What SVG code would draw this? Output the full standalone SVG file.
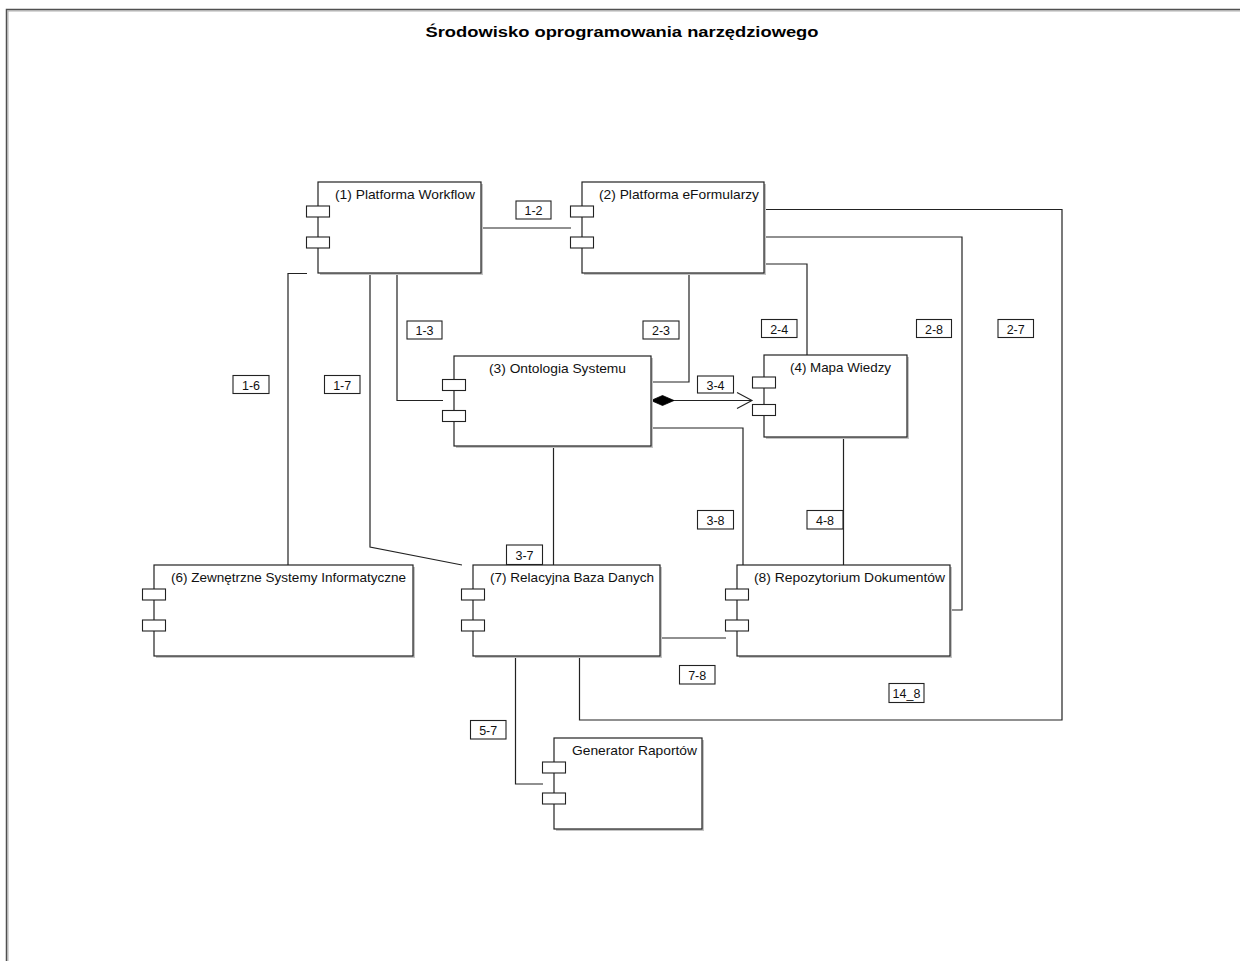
<svg xmlns="http://www.w3.org/2000/svg" width="1240" height="961" viewBox="0 0 1240 961">
<defs>
<style>
.frame{fill:none;stroke:#505050;stroke-width:1.5}
.frame2{fill:none;stroke:#b0b0b0;stroke-width:1}
.box{fill:#fff;stroke:#222;stroke-width:1.2}
.shadow{fill:#c4c4c4}
.port{fill:#fff;stroke:#222;stroke-width:1.1}
.name{font-family:"Liberation Sans",Arial,sans-serif;font-size:13px;fill:#111}
.title{font-family:"Liberation Sans",Arial,sans-serif;font-size:14.5px;font-weight:bold;fill:#000}
.conn{fill:none;stroke:#222;stroke-width:1.2}
.lbox{fill:#fff;stroke:#222;stroke-width:1.1}
.ltxt{font-family:"Liberation Sans",Arial,sans-serif;font-size:12.5px;fill:#111;text-anchor:middle}
</style>
<marker id="diamond" markerWidth="26" markerHeight="12" refX="0" refY="6" orient="auto" markerUnits="userSpaceOnUse">
<path d="M0,6 L11.5,1 L23,6 L11.5,11 Z" fill="#000" stroke="#000" stroke-width="0.8"/>
</marker>
<marker id="openarrow" markerWidth="18" markerHeight="20" refX="16" refY="9" orient="auto" markerUnits="userSpaceOnUse">
<path d="M1,1 L16,9 L1,17" fill="none" stroke="#222" stroke-width="1.1"/>
</marker>
</defs>
<rect width="1240" height="961" fill="#fff"/>
<g id="frame">
<rect class="frame2" x="8" y="11" width="1300" height="1000"/>
<rect class="frame" x="6.5" y="9.5" width="1300" height="1000"/>
<text class="title" x="622" y="37" text-anchor="middle" textLength="393" lengthAdjust="spacingAndGlyphs">Środowisko oprogramowania narzędziowego</text>
</g>
<g id="connectors">
<polyline class="conn" points="481,228 571,228"/>
<polyline class="conn" points="397,273 397,400.5 443,400.5"/>
<polyline class="conn" points="307,273.5 288,273.5 288,565"/>
<polyline class="conn" points="370,273 370,547 462,565"/>
<polyline class="conn" points="689,273 689,382 651,382"/>
<polyline class="conn" points="764,264 807,264 807,355"/>
<polyline class="conn" points="764,237 962,237 962,610 950,610"/>
<polyline class="conn" points="764,209.5 1062,209.5 1062,720 579.5,720 579.5,656"/>
<line class="conn" x1="651" y1="400.5" x2="752" y2="400.5" marker-start="url(#diamond)" marker-end="url(#openarrow)"/>
<polyline class="conn" points="651,428 743,428 743,565"/>
<polyline class="conn" points="553.5,446 553.5,565"/>
<polyline class="conn" points="843.5,437 843.5,565"/>
<polyline class="conn" points="660,638 726,638"/>
<polyline class="conn" points="515.5,656 515.5,784 543,784"/>
</g>
<g id="node1">
<rect class="shadow" x="320" y="184" width="163" height="91"/>
<rect class="box" x="318" y="182" width="163" height="91"/>
<rect class="port" x="306.5" y="206" width="23" height="11"/>
<rect class="port" x="306.5" y="237" width="23" height="11"/>
<text class="name" x="335" y="199" textLength="140" lengthAdjust="spacingAndGlyphs">(1) Platforma Workflow</text>
</g>
<g id="node2">
<rect class="shadow" x="584" y="184" width="182" height="91"/>
<rect class="box" x="582" y="182" width="182" height="91"/>
<rect class="port" x="570.5" y="206" width="23" height="11"/>
<rect class="port" x="570.5" y="237" width="23" height="11"/>
<text class="name" x="599" y="199" textLength="160" lengthAdjust="spacingAndGlyphs">(2) Platforma eFormularzy</text>
</g>
<g id="node3">
<rect class="shadow" x="456" y="358" width="197" height="90"/>
<rect class="box" x="454" y="356" width="197" height="90"/>
<rect class="port" x="442.5" y="379.5" width="23" height="11"/>
<rect class="port" x="442.5" y="410.5" width="23" height="11"/>
<text class="name" x="489" y="373" textLength="137" lengthAdjust="spacingAndGlyphs">(3) Ontologia Systemu</text>
</g>
<g id="node4">
<rect class="shadow" x="766" y="357" width="143" height="82"/>
<rect class="box" x="764" y="355" width="143" height="82"/>
<rect class="port" x="752.5" y="377" width="23" height="11"/>
<rect class="port" x="752.5" y="404.5" width="23" height="11"/>
<text class="name" x="790" y="372" textLength="101" lengthAdjust="spacingAndGlyphs">(4) Mapa Wiedzy</text>
</g>
<g id="node6">
<rect class="shadow" x="156" y="567" width="259" height="91"/>
<rect class="box" x="154" y="565" width="259" height="91"/>
<rect class="port" x="142.5" y="589" width="23" height="11"/>
<rect class="port" x="142.5" y="620" width="23" height="11"/>
<text class="name" x="171" y="582" textLength="235" lengthAdjust="spacingAndGlyphs">(6) Zewnętrzne Systemy Informatyczne</text>
</g>
<g id="node7">
<rect class="shadow" x="475" y="567" width="187" height="91"/>
<rect class="box" x="473" y="565" width="187" height="91"/>
<rect class="port" x="461.5" y="589" width="23" height="11"/>
<rect class="port" x="461.5" y="620" width="23" height="11"/>
<text class="name" x="490" y="582" textLength="164" lengthAdjust="spacingAndGlyphs">(7) Relacyjna Baza Danych</text>
</g>
<g id="node8">
<rect class="shadow" x="739" y="567" width="213" height="91"/>
<rect class="box" x="737" y="565" width="213" height="91"/>
<rect class="port" x="725.5" y="589" width="23" height="11"/>
<rect class="port" x="725.5" y="620" width="23" height="11"/>
<text class="name" x="754" y="582" textLength="191" lengthAdjust="spacingAndGlyphs">(8) Repozytorium Dokumentów</text>
</g>
<g id="node5">
<rect class="shadow" x="556" y="740" width="148" height="91"/>
<rect class="box" x="554" y="738" width="148" height="91"/>
<rect class="port" x="542.5" y="762" width="23" height="11"/>
<rect class="port" x="542.5" y="793" width="23" height="11"/>
<text class="name" x="572" y="755" textLength="125" lengthAdjust="spacingAndGlyphs">Generator Raportów</text>
</g>
<g id="labels">
<rect class="lbox" x="516" y="201" width="35" height="18"/><text class="ltxt" x="533.5" y="215">1-2</text>
<rect class="lbox" x="407" y="321" width="35" height="18"/><text class="ltxt" x="424.5" y="335">1-3</text>
<rect class="lbox" x="233" y="375.5" width="36" height="18"/><text class="ltxt" x="251" y="389.5">1-6</text>
<rect class="lbox" x="324.5" y="375.5" width="35.5" height="18"/><text class="ltxt" x="342.2" y="389.5">1-7</text>
<rect class="lbox" x="643" y="321" width="36" height="18"/><text class="ltxt" x="661" y="335">2-3</text>
<rect class="lbox" x="761.5" y="319.5" width="35.5" height="18"/><text class="ltxt" x="779.2" y="333.5">2-4</text>
<rect class="lbox" x="916.5" y="319.5" width="35" height="18"/><text class="ltxt" x="934" y="333.5">2-8</text>
<rect class="lbox" x="998" y="319.5" width="35.5" height="18"/><text class="ltxt" x="1015.7" y="333.5">2-7</text>
<rect class="lbox" x="697.5" y="376" width="36" height="17"/><text class="ltxt" x="715.5" y="389.5">3-4</text>
<rect class="lbox" x="697.5" y="510.5" width="36" height="18.5"/><text class="ltxt" x="715.5" y="525">3-8</text>
<rect class="lbox" x="807" y="510.5" width="36" height="18.5"/><text class="ltxt" x="825" y="525">4-8</text>
<rect class="lbox" x="506.5" y="545" width="36" height="19.5"/><text class="ltxt" x="524.5" y="560">3-7</text>
<rect class="lbox" x="679.5" y="665.5" width="35.5" height="18.5"/><text class="ltxt" x="697.2" y="680">7-8</text>
<rect class="lbox" x="889" y="683.5" width="35" height="19"/><text class="ltxt" x="906.5" y="698">14_8</text>
<rect class="lbox" x="470.5" y="720.5" width="35.5" height="18.5"/><text class="ltxt" x="488.2" y="735">5-7</text>
</g>
</svg>
